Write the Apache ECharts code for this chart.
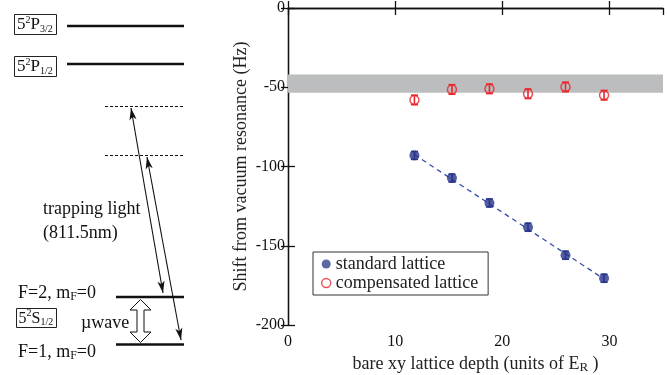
<!DOCTYPE html>
<html>
<head>
<meta charset="utf-8">
<script src="https://cdn.jsdelivr.net/npm/echarts@6/dist/echarts.min.js"></script>
<style>
  html, body {margin: 0; padding: 0; background: #fff;}
  #chart {width: 667px; height: 375px;}
</style>
</head>
<body>
<div id="chart"></div>
<script>
// data
const depthStd = [11.8, 15.3, 18.8, 22.4, 25.9, 29.5];
const shiftStd = [-93, -107.3, -123, -138.3, -156, -170.5];
const errStd = [2.5, 2.5, 2.5, 2.5, 2.5, 2.5];
const depthComp = [11.8, 15.3, 18.8, 22.4, 25.9, 29.5];
const shiftComp = [-58, -51.4, -51, -54.1, -49.8, -55];
const errComp = [3, 3, 3, 3, 3, 3];
const fitDepth = [11.8, 29.5];
const fitShift = [-92.5, -171];
const bandShift = [-53.5, -42];
const xTicks = [0, 10, 20, 30];

const FONT = '"Liberation Serif", "DejaVu Serif", serif';
const BLUE = '#27348b';
const RED = '#e8262b';

const chart = echarts.init(document.getElementById('chart'));

// --- level diagram helpers ---
const ctx = document.createElement('canvas').getContext('2d');
function textRun(x, y, list) {
  const out = [];
  let cx = x;
  list.forEach(([t, s, dy]) => {
    out.push({
      type: 'text', x: cx, y: y + dy,
      style: {text: t, font: s + 'px ' + FONT, fill: '#111', verticalAlign: 'middle', align: 'left'}
    });
    ctx.font = s + 'px ' + FONT;
    cx += ctx.measureText(t).width;
  });
  return out;
}
function line(x1, y1, x2, y2, w, dash) {
  return {type: 'line', shape: {x1, y1, x2, y2},
    style: {stroke: '#111', lineWidth: w, lineDash: dash || null}};
}
function head(x1, y1, x2, y2) {
  const len = 12, w = 3.6;
  const dx = x2 - x1, dy = y2 - y1, d = Math.hypot(dx, dy);
  const ux = dx / d, uy = dy / d;
  const bx = x2 - ux * len, by = y2 - uy * len;
  const mx = x2 - ux * len * 0.75, my = y2 - uy * len * 0.75;
  return {type: 'polygon', shape: {points: [[x2, y2], [bx - uy * w, by + ux * w], [mx, my], [bx + uy * w, by - ux * w]]},
    style: {fill: '#111'}};
}
function arrow2(x1, y1, x2, y2) {
  return [line(x1, y1, x2, y2, 1.1), head(x2, y2, x1, y1), head(x1, y1, x2, y2)];
}
function box(x, y, w, h) {
  return {type: 'rect', shape: {x, y, width: w, height: h}, style: {fill: 'none', stroke: '#222', lineWidth: 1}};
}

const diagram = [].concat(
  [box(14.5, 14.5, 42, 20)],
  textRun(17, 25, [['5', 17, 0], ['2', 10, -5], ['P', 17, 0], ['3/2', 10, 4]]),
  [box(14.5, 56.5, 42, 20)],
  textRun(17, 67, [['5', 17, 0], ['2', 10, -5], ['P', 17, 0], ['1/2', 10, 4]]),
  [box(16.5, 308.5, 40, 19)],
  textRun(18.5, 318.5, [['5', 16, 0], ['2', 10, -5], ['S', 16, 0], ['1/2', 10, 4]]),
  [
    line(67, 26, 184, 26, 2.6),
    line(67, 64, 184, 64, 2.6),
    line(116, 297, 184, 297, 2.6),
    line(116, 344.5, 184, 344.5, 2.6),
    line(105, 106.5, 185, 106.5, 1, [3, 2]),
    line(105, 155.5, 185, 155.5, 1, [3, 2])
  ],
  arrow2(131, 108, 163, 293),
  arrow2(147, 157, 181, 340),
  [{
    type: 'polygon',
    shape: {points: [[140.5, 299.5], [130, 310], [137, 310], [137, 332], [130, 332], [140.5, 342.5],
      [151, 332], [144, 332], [144, 310], [151, 310]]},
    style: {fill: '#fff', stroke: '#111', lineWidth: 1}
  }],
  textRun(43, 209, [['trapping light', 18, 0]]),
  textRun(43, 233, [['(811.5nm)', 18, 0]]),
  textRun(81, 323, [['\u00b5wave', 18, 0]]),
  textRun(18, 293, [['F=2, m', 18, 0], ['F', 12, 4], ['=0', 18, 0]]),
  textRun(18, 352, [['F=1, m', 18, 0], ['F', 12, 4], ['=0', 18, 0]])
);

// --- error bars ---
function errBars(xs, ys, es) {
  return xs.map((x, i) => [x, ys[i] - es[i], ys[i] + es[i]]);
}
function renderErr(params, api) {
  const x = api.value(0);
  const p1 = api.coord([x, api.value(1)]);
  const p2 = api.coord([x, api.value(2)]);
  const w = 3.5;
  const style = {stroke: api.visual('color'), lineWidth: 1.6};
  return {type: 'group', children: [
    {type: 'line', shape: {x1: p1[0], y1: p1[1], x2: p2[0], y2: p2[1]}, style},
    {type: 'line', shape: {x1: p1[0] - w, y1: p1[1], x2: p1[0] + w, y2: p1[1]}, style},
    {type: 'line', shape: {x1: p2[0] - w, y1: p2[1], x2: p2[0] + w, y2: p2[1]}, style}
  ]};
}

const axisCommon = {
  axisLine: {show: true, lineStyle: {color: '#111', width: 1.3}},
  axisTick: {show: true, inside: true, length: 7, lineStyle: {color: '#111', width: 1.3}},
  splitLine: {show: false}
};

chart.setOption({
  animation: false,
  backgroundColor: '#fff',
  textStyle: {fontFamily: FONT},
  graphic: diagram,
  grid: {left: 288, right: 4, top: 8, bottom: 50, outerBoundsMode: 'none', containLabel: false},
  legend: {
    left: 313, top: 252,
    orient: 'vertical',
    itemGap: 1,
    itemWidth: 9, itemHeight: 9,
    padding: [3, 10, 3, 8],
    borderColor: '#333', borderWidth: 1,
    backgroundColor: '#fff',
    textStyle: {fontFamily: FONT, fontSize: 18, color: '#222'},
    data: [
      {name: 'standard lattice', icon: 'circle', itemStyle: {color: '#34418c', borderWidth: 0}},
      {name: 'compensated lattice', icon: 'circle',
        itemStyle: {color: 'rgba(0,0,0,0)', borderColor: RED, borderWidth: 1.4}}
    ]
  },
  xAxis: [
    Object.assign({
      type: 'value', min: 0, max: 35, interval: 10, position: 'bottom',
      name: 'bare xy lattice depth (units of E{sub|R} )',
      nameLocation: 'middle', nameGap: 24,
      nameTextStyle: {fontFamily: FONT, fontSize: 18, color: '#222', verticalAlign: 'top',
        rich: {sub: {fontFamily: FONT, fontSize: 13, color: '#222', padding: [8, 0, 0, 0]}}},
      axisLabel: {color: '#111', fontFamily: FONT, fontSize: 16, margin: 9, showMaxLabel: false,
        formatter: v => xTicks.indexOf(v) >= 0 ? String(v) : ''}
    }, axisCommon),
    Object.assign({
      type: 'value', min: 0, max: 35, interval: 10, position: 'top',
      axisLabel: {show: false}
    }, axisCommon)
  ],
  yAxis: [
    Object.assign({
      type: 'value', min: -200, max: 0, interval: 50, position: 'left',
      name: 'Shift from vacuum resonance (Hz)',
      nameLocation: 'middle', nameGap: 38, nameRotate: 90, nameMoveOverlap: false,
      nameTextStyle: {fontFamily: FONT, fontSize: 18, color: '#222'},
      axisLabel: {color: '#111', fontFamily: FONT, fontSize: 16, margin: 3}
    }, axisCommon),
    Object.assign({
      type: 'value', min: -200, max: 0, interval: 50, position: 'right',
      axisLabel: {show: false}
    }, axisCommon)
  ],
  series: [
    {
      type: 'line', name: 'band', data: [], z: 1,
      markArea: {silent: true, itemStyle: {color: '#bcbdbe'},
        data: [[{yAxis: bandShift[0]}, {yAxis: bandShift[1]}]]}
    },
    {
      type: 'line', name: 'fit', z: 2,
      data: fitDepth.map((x, i) => [x, fitShift[i]]),
      symbol: 'none',
      lineStyle: {color: '#3350a8', width: 1.3, type: [5, 4]}
    },
    {
      type: 'custom', name: 'standard lattice err', z: 3,
      renderItem: renderErr, itemStyle: {color: BLUE},
      data: errBars(depthStd, shiftStd, errStd)
    },
    {
      type: 'scatter', name: 'standard lattice', z: 4,
      data: depthStd.map((x, i) => [x, shiftStd[i]]),
      symbol: 'circle', symbolSize: 10,
      itemStyle: {color: BLUE}
    },
    {
      type: 'scatter', name: 'compensated lattice', z: 4,
      data: depthComp.map((x, i) => [x, shiftComp[i]]),
      symbol: 'circle', symbolSize: 9,
      itemStyle: {color: 'rgba(0,0,0,0)', borderColor: RED, borderWidth: 1.5}
    },
    {
      type: 'custom', name: 'compensated lattice err', z: 5,
      renderItem: renderErr, itemStyle: {color: RED},
      data: errBars(depthComp, shiftComp, errComp)
    }
  ]
});
</script>
</body>
</html>
